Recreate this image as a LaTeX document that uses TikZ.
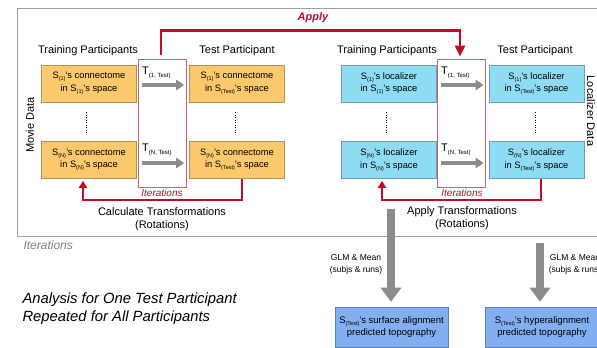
\documentclass[tikz,border=0pt]{standalone}
\usepackage{fontspec}
\setmainfont{Liberation Sans}
\usetikzlibrary{arrows.meta}
\definecolor{myorange}{HTML}{FBC96B}
\definecolor{myorangeb}{HTML}{B09458}
\definecolor{mycyan}{HTML}{8EDCF4}
\definecolor{mycyanb}{HTML}{6C9FB2}
\definecolor{myblue}{HTML}{82AFF0}
\definecolor{mybluer}{HTML}{5E80B4}
\definecolor{myred}{HTML}{C10B2B}
\definecolor{myredbox}{HTML}{D2606E}
\definecolor{mygray}{HTML}{8C8C8C}
\definecolor{myframe}{HTML}{A0A0A0}
\newcommand{\mysub}[1]{\raisebox{-0.4ex}{\fontsize{5.5}{5.5}\selectfont #1}}
\newcommand{\tsub}[1]{\raisebox{-0.45ex}{\fontsize{6}{6}\selectfont #1}}
\begin{document}
\begin{tikzpicture}[x=1pt,y=-1pt,
  box/.style={draw, line width=0.6pt, minimum width=95pt, minimum height=37pt, align=center, font=\fontsize{9.3}{12.5}\selectfont, inner sep=1pt},
  obox/.style={box, fill=myorange, draw=myorangeb},
  cbox/.style={box, fill=mycyan, draw=mycyanb},
  bbox/.style={box, fill=myblue, draw=mybluer, minimum width=113pt, minimum height=40pt, font=\fontsize{9.5}{12.5}\selectfont},
  itbox/.style={draw=myredbox, line width=0.8pt, minimum width=48pt, minimum height=128pt, inner sep=0pt},
  head/.style={font=\fontsize{11}{13.5}\selectfont},
  tlabel/.style={anchor=west, font=\fontsize{11}{13}\selectfont, inner sep=0pt},
  tarrow/.style={draw=mygray, line width=4.5pt, -{Triangle[width=10pt,length=8pt]}},
  bigarrow/.style={draw=mygray, line width=8pt, -{Triangle[width=20pt,length=14pt]}},
  applyarrow/.style={draw=myred, line width=2.6pt, -{Triangle[width=10pt,length=11pt]}},
  iterarrow/.style={draw=myred, line width=1.8pt, -{Triangle[width=8pt,length=7pt]}},
  itlabel/.style={text=myred, font=\fontsize{10}{12}\selectfont\itshape},
  dots/.style={line width=0.9pt, dash pattern=on 0.9pt off 1.6pt}
]
\useasboundingbox (0,0) rectangle (597,348);
\clip (0,0) rectangle (597,348);
\fill[white] (0,0) rectangle (597,348);

% outer frame
\draw[myframe, line width=0.8pt] (17,8) rectangle (640,236);
\node[anchor=west, text=gray, font=\fontsize{12}{14}\selectfont\itshape] (iterlab) at (20,245) {Iterations};

% side labels
\node[head, rotate=90] (movie) at (30,125) {Movie Data};
\node[head, rotate=-90] (loc) at (591,111) {Localizer Data};

% headings
\node[head] (h1) at (88,51) {Training Participants};
\node[head] (h2) at (237,51) {Test Participant};
\node[head] (h3) at (387,51) {Training Participants};
\node[head] (h4) at (535,51) {Test Participant};

% iteration boxes
\node[itbox] (it1) at (162,123) {};
\node[itbox] (it2) at (461,123) {};

% orange boxes
\node[obox] (o1) at (89,83.5) {S\mysub{(1)}'s connectome\\in S\mysub{(1)}'s space};
\node[obox] (o2) at (237,83.5) {S\mysub{(1)}'s connectome\\in S\mysub{(Test)}'s space};
\node[obox] (o3) at (89,160) {S\mysub{(N)}'s connectome\\in S\mysub{(N)}'s space};
\node[obox] (o4) at (237,160) {S\mysub{(N)}'s connectome\\in S\mysub{(Test)}'s space};

% cyan boxes
\node[cbox] (c1) at (389,83.5) {S\mysub{(1)}'s localizer\\in S\mysub{(1)}'s space};
\node[cbox] (c2) at (536.5,83.5) {S\mysub{(1)}'s localizer\\in S\mysub{(Test)}'s space};
\node[cbox] (c3) at (389,160) {S\mysub{(N)}'s localizer\\in S\mysub{(N)}'s space};
\node[cbox] (c4) at (536.5,160) {S\mysub{(N)}'s localizer\\in S\mysub{(Test)}'s space};

% dotted continuation
\draw[dots] ([xshift=-3pt,yshift=-10pt]o1.south) -- ([xshift=-3pt,yshift=8pt]o3.north);
\draw[dots] ([xshift=-2pt,yshift=-10pt]o2.south) -- ([xshift=-2pt,yshift=8pt]o4.north);
\draw[dots] ([xshift=-3pt,yshift=-10pt]c1.south) -- ([xshift=-3pt,yshift=8pt]c3.north);
\draw[dots] ([xshift=-1.5pt,yshift=-10pt]c2.south) -- ([xshift=-1.5pt,yshift=8pt]c4.north);

% transformation arrows
\draw[tarrow] ([xshift=5pt,yshift=-1.5pt]o1.east) -- ([xshift=-5pt,yshift=-1.5pt]o2.west);
\draw[tarrow] ([xshift=5pt,yshift=-3pt]o3.east) -- ([xshift=-5pt,yshift=-3pt]o4.west);
\draw[tarrow] ([xshift=4pt,yshift=-1.5pt]c1.east) -- ([xshift=-5pt,yshift=-1.5pt]c2.west);
\draw[tarrow] ([xshift=4pt,yshift=-3pt]c3.east) -- ([xshift=-5pt,yshift=-3pt]c4.west);
\node[tlabel] (t1) at (142,73) {T\tsub{(1, Test)}};
\node[tlabel] (t2) at (142,150) {T\tsub{(N, Test)}};
\node[tlabel] (t3) at (441,73) {T\tsub{(1, Test)}};
\node[tlabel] (t4) at (441,150) {T\tsub{(N, Test)}};

% apply arrow
\draw[applyarrow] ([xshift=-1pt,yshift=4pt]it1.north) -- ++(0,-24) -| ([xshift=-1pt,yshift=2pt]it2.north);
\node[text=myred, font=\fontsize{11}{13}\selectfont\bfseries\itshape] (apply) at (313,18) {Apply};

% iteration loops
\draw[iterarrow] ([xshift=5pt]o4.south) -- ++(0,21) -| ([xshift=-6pt,yshift=-2pt]o3.south);
\draw[iterarrow] ([xshift=4.5pt]c4.south) -- ++(0,21) -| ([xshift=-7pt,yshift=-2pt]c3.south);
\node[itlabel] (il1) at (162,193) {Iterations};
\node[itlabel] (il2) at (462,193) {Iterations};

% transformation captions
\node[head, align=center] (calc) at (162,219) {Calculate Transformations\\(Rotations)};
\node[head, align=center] (appl) at (462,218) {Apply Transformations\\(Rotations)};

% bottom boxes
\node[bbox] (b1) at (391.5,327) {S\mysub{(Test)}'s surface alignment\\predicted topography};
\node[bbox] (b2) at (542,327) {S\mysub{(Test)}'s hyperalignment\\predicted topography};

% big arrows
\coordinate (g1) at (391,209);
\coordinate (g2) at (540,243);
\draw[bigarrow, shorten >=5pt] (g1) -- (g1 |- b1.north);
\draw[bigarrow, shorten >=5pt] (g2) -- (g2 |- b2.north);
\node[align=center, font=\fontsize{8.5}{12}\selectfont] (glm1) at (356,264) {GLM \& Mean\\(subjs \& runs)};
\node[align=center, font=\fontsize{8.5}{12}\selectfont] (glm2) at (575,264) {GLM \& Mean\\(subjs \& runs)};

% caption
\node[anchor=west, align=left, font=\fontsize{14.8}{18}\selectfont\itshape] (cap) at (19,309) {Analysis for One Test Participant\\Repeated for All Participants};
\end{tikzpicture}
\end{document}
